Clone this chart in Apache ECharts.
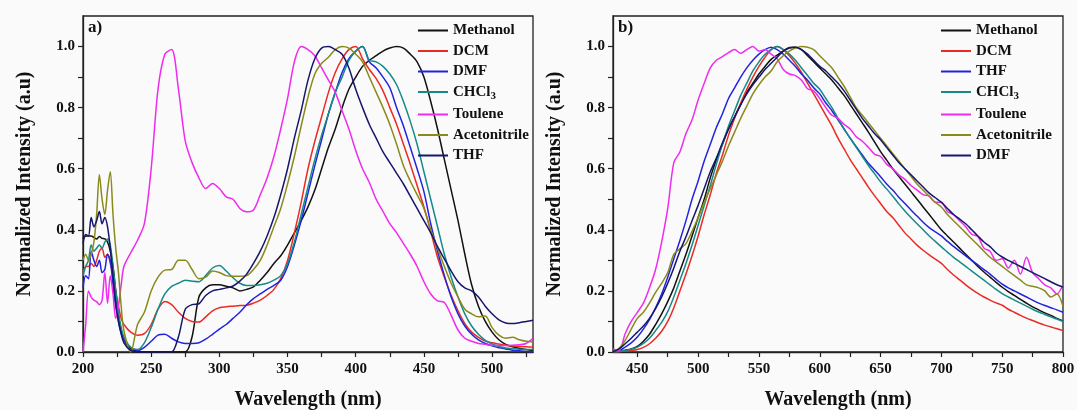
<!DOCTYPE html>
<html>
<head>
<meta charset="utf-8">
<script src="https://cdn.jsdelivr.net/npm/echarts@6/dist/echarts.min.js"></script>
<style>
  html, body { margin: 0; padding: 0; background: #fafafa; }
  #chart { width: 1077px; height: 410px; }
</style>
</head>
<body>
<div id="chart"></div>
<script>
// ---- a) absorption spectra ----
const absWavelength = [200,202,204,206,208,210,212,214,216,218,220,222,224,226,228,230,
  235,240,245,250,255,260,265,270,275,280,285,290,295,300,305,310,315,320,325,330,
  335,340,345,350,355,360,365,370,375,380,385,390,395,400,405,410,415,420,425,430,
  435,440,445,450,455,460,465,470,475,480,485,490,495,500,505,510,515,520,525,530];

const absMethanol = [0.37,0.38,0.38,0.38,0.375,0.37,0.378,0.372,0.37,0.36,0.33,0.28,0.2,0.12,0.07,0.04,
  0.01,0.003,0,0,0,0,0,0,0,0.05,0.18,0.21,0.22,0.22,0.215,0.21,0.2,0.205,0.213,0.235,
  0.26,0.29,0.315,0.35,0.39,0.43,0.475,0.53,0.6,0.67,0.73,0.8,0.86,0.9,0.935,0.955,0.97,0.985,0.995,1.0,
  0.995,0.975,0.95,0.9,0.82,0.73,0.63,0.53,0.43,0.32,0.22,0.15,0.1,0.065,0.04,0.025,0.017,0.012,0.008,0.005];

const absDCM = [0.26,0.28,0.28,0.29,0.28,0.3,0.33,0.34,0.31,0.32,0.29,0.25,0.2,0.15,0.11,0.09,
  0.065,0.055,0.06,0.09,0.14,0.165,0.155,0.13,0.11,0.1,0.098,0.115,0.135,0.145,0.148,0.15,0.152,0.153,0.16,0.17,
  0.185,0.205,0.24,0.3,0.39,0.49,0.6,0.69,0.77,0.85,0.915,0.96,0.99,1.0,0.96,0.925,0.895,0.855,0.8,0.745,
  0.68,0.615,0.545,0.475,0.395,0.31,0.245,0.185,0.135,0.093,0.065,0.048,0.036,0.03,0.026,0.022,0.02,0.018,0.017,0.016];

const absDMF = [0.21,0.25,0.24,0.33,0.3,0.28,0.3,0.26,0.27,0.32,0.3,0.22,0.15,0.1,0.06,0.04,
  0.015,0.005,0.015,0.035,0.055,0.058,0.045,0.033,0.028,0.028,0.03,0.042,0.058,0.075,0.09,0.11,0.13,0.155,0.175,0.19,
  0.205,0.218,0.235,0.28,0.35,0.43,0.52,0.61,0.695,0.78,0.85,0.915,0.96,0.985,1.0,0.95,0.93,0.9,0.865,0.8,
  0.74,0.67,0.6,0.525,0.42,0.33,0.25,0.18,0.125,0.085,0.058,0.04,0.028,0.02,0.014,0.01,0.006,0.004,0.002,0.001];

const absCHCl3 = [0.25,0.28,0.3,0.35,0.33,0.34,0.35,0.34,0.36,0.37,0.35,0.28,0.2,0.13,0.08,0.05,
  0.015,0.008,0.03,0.08,0.14,0.19,0.215,0.225,0.235,0.232,0.23,0.25,0.275,0.283,0.265,0.243,0.225,0.218,0.218,0.22,
  0.225,0.235,0.25,0.29,0.36,0.45,0.54,0.63,0.71,0.78,0.85,0.9,0.955,0.985,1.0,0.955,0.95,0.935,0.91,0.875,
  0.82,0.755,0.68,0.59,0.5,0.41,0.32,0.245,0.18,0.125,0.085,0.058,0.038,0.026,0.018,0.013,0.011,0.009,0.008,0.008];

const absToulene = [0,0.09,0.2,0.18,0.17,0.165,0.155,0.17,0.26,0.16,0.25,0.19,0.11,0.15,0.22,0.28,
  0.325,0.366,0.42,0.6,0.86,0.975,0.99,0.86,0.69,0.62,0.57,0.535,0.552,0.535,0.508,0.5,0.47,0.459,0.465,0.515,
  0.57,0.64,0.73,0.83,0.95,1.0,0.99,0.97,0.93,0.89,0.85,0.79,0.73,0.66,0.6,0.555,0.5,0.46,0.42,0.39,
  0.355,0.32,0.28,0.23,0.19,0.167,0.162,0.12,0.072,0.045,0.035,0.028,0.025,0.022,0.021,0.021,0.022,0.024,0.028,0.045];

const absAcetonitrile = [0.3,0.32,0.3,0.32,0.36,0.45,0.58,0.5,0.45,0.53,0.59,0.45,0.34,0.26,0.15,0.07,
  0.0,0.09,0.13,0.2,0.245,0.268,0.27,0.3,0.3,0.27,0.24,0.245,0.265,0.26,0.25,0.248,0.248,0.25,0.27,0.3,
  0.35,0.41,0.47,0.55,0.64,0.74,0.835,0.91,0.945,0.965,0.99,1.0,0.995,0.975,0.95,0.9,0.85,0.8,0.745,0.68,
  0.61,0.56,0.515,0.47,0.4,0.34,0.28,0.225,0.18,0.14,0.125,0.115,0.118,0.08,0.055,0.045,0.048,0.04,0.035,0.033];

const absTHF = [0.355,0.385,0.38,0.44,0.41,0.43,0.46,0.42,0.44,0.41,0.34,0.25,0.16,0.1,0.06,0.03,
  0.005,0,0,0,0,0,0,0.05,0.14,0.155,0.158,0.185,0.2,0.205,0.21,0.216,0.232,0.255,0.29,0.33,
  0.38,0.44,0.515,0.6,0.7,0.79,0.89,0.96,0.995,1.0,0.99,0.975,0.93,0.86,0.8,0.745,0.7,0.655,0.62,0.585,
  0.55,0.51,0.47,0.43,0.39,0.345,0.305,0.265,0.23,0.21,0.2,0.18,0.15,0.125,0.105,0.095,0.093,0.096,0.1,0.104];

// ---- b) emission spectra ----
const plWavelength = [430,435,440,445,450,455,460,465,470,475,480,485,490,495,500,505,510,515,520,525,
  530,535,540,545,550,555,560,565,570,575,580,585,590,595,600,605,610,615,620,625,
  630,635,640,645,650,655,660,665,670,675,680,685,690,695,700,705,710,715,720,725,
  730,735,740,745,750,755,760,765,770,775,780,785,790,795,800];

const plMethanol = [0,0.002,0.006,0.01,0.018,0.035,0.058,0.09,0.125,0.165,0.21,0.265,0.32,0.38,0.44,0.5,0.57,0.63,0.68,0.73,
  0.77,0.81,0.85,0.88,0.91,0.935,0.958,0.972,0.985,0.995,0.998,0.99,0.97,0.95,0.93,0.91,0.89,0.865,0.84,0.81,
  0.78,0.75,0.72,0.688,0.656,0.628,0.6,0.575,0.55,0.525,0.5,0.475,0.45,0.425,0.4,0.38,0.36,0.34,0.32,0.3,
  0.28,0.262,0.245,0.228,0.212,0.198,0.185,0.172,0.16,0.148,0.138,0.128,0.12,0.11,0.102];

const plDCM = [0,0.001,0.003,0.005,0.008,0.015,0.027,0.045,0.068,0.1,0.145,0.2,0.255,0.315,0.38,0.45,0.515,0.585,0.645,0.71,
  0.765,0.815,0.86,0.9,0.935,0.965,0.99,1.0,0.99,0.97,0.945,0.915,0.88,0.845,0.81,0.775,0.74,0.7,0.665,0.63,
  0.6,0.57,0.54,0.512,0.486,0.46,0.44,0.415,0.39,0.37,0.35,0.333,0.318,0.304,0.29,0.27,0.252,0.236,0.22,0.205,
  0.192,0.18,0.17,0.161,0.153,0.14,0.13,0.12,0.111,0.103,0.095,0.088,0.082,0.076,0.07];

const plTHF = [0,0.004,0.016,0.03,0.049,0.075,0.106,0.145,0.19,0.245,0.305,0.365,0.43,0.5,0.56,0.625,0.68,0.735,0.78,0.83,
  0.865,0.9,0.93,0.955,0.975,0.99,0.998,0.99,0.975,0.955,0.935,0.91,0.89,0.865,0.845,0.815,0.79,0.76,0.73,0.7,
  0.672,0.645,0.618,0.596,0.574,0.55,0.53,0.507,0.486,0.465,0.445,0.425,0.407,0.393,0.38,0.362,0.346,0.33,0.315,0.3,
  0.285,0.27,0.255,0.238,0.222,0.21,0.2,0.19,0.18,0.17,0.16,0.152,0.145,0.138,0.13];

const plCHCl3 = [0,0.002,0.005,0.009,0.016,0.028,0.045,0.07,0.097,0.132,0.18,0.235,0.29,0.35,0.415,0.48,0.545,0.615,0.68,0.74,
  0.79,0.84,0.88,0.92,0.95,0.975,0.99,1.0,0.99,0.975,0.955,0.93,0.905,0.88,0.86,0.83,0.8,0.765,0.73,0.7,
  0.67,0.64,0.61,0.584,0.557,0.534,0.51,0.485,0.462,0.44,0.42,0.4,0.38,0.362,0.344,0.327,0.31,0.295,0.28,0.265,
  0.25,0.235,0.22,0.205,0.191,0.18,0.17,0.16,0.15,0.14,0.131,0.123,0.115,0.108,0.1];

const plToulene = [0.01,0.005,0.06,0.1,0.13,0.16,0.21,0.27,0.36,0.47,0.62,0.655,0.715,0.76,0.825,0.88,0.93,0.955,0.967,0.98,
  0.99,0.978,0.99,1.0,0.985,0.99,0.975,0.96,0.925,0.91,0.905,0.89,0.862,0.855,0.83,0.8,0.775,0.765,0.745,0.73,
  0.705,0.69,0.67,0.648,0.64,0.615,0.6,0.58,0.565,0.545,0.53,0.515,0.51,0.49,0.49,0.46,0.45,0.43,0.41,0.385,
  0.378,0.34,0.33,0.3,0.305,0.275,0.3,0.255,0.31,0.26,0.24,0.22,0.21,0.19,0.22];

const plAcetonitrile = [0,0.012,0.038,0.075,0.11,0.13,0.16,0.195,0.225,0.26,0.32,0.338,0.355,0.395,0.44,0.49,0.535,0.58,0.625,0.675,
  0.72,0.765,0.805,0.845,0.875,0.9,0.92,0.95,0.97,0.985,0.995,1.0,0.998,0.99,0.97,0.95,0.93,0.9,0.87,0.835,
  0.8,0.775,0.75,0.725,0.7,0.675,0.65,0.625,0.6,0.575,0.55,0.53,0.51,0.49,0.475,0.45,0.43,0.41,0.39,0.37,
  0.35,0.33,0.31,0.295,0.28,0.265,0.25,0.235,0.22,0.215,0.21,0.2,0.18,0.19,0.15];

const plDMF = [0,0.01,0.027,0.045,0.065,0.085,0.11,0.142,0.18,0.225,0.275,0.33,0.377,0.43,0.48,0.535,0.59,0.635,0.685,0.73,
  0.77,0.81,0.845,0.875,0.9,0.925,0.945,0.965,0.985,0.997,0.998,0.99,0.975,0.955,0.935,0.92,0.9,0.88,0.855,0.825,
  0.795,0.765,0.74,0.715,0.695,0.67,0.645,0.62,0.6,0.58,0.56,0.54,0.52,0.505,0.49,0.47,0.45,0.435,0.42,0.4,
  0.38,0.36,0.345,0.325,0.311,0.3,0.29,0.28,0.27,0.26,0.25,0.24,0.23,0.22,0.213];

// ---- axis ticks ----
const absTicks  = [200,225,250,275,300,325,350,375,400,425,450,475,500,525];
const absLabels = [200,250,300,350,400,450,500];
const plTicks   = [450,475,500,525,550,575,600,625,650,675,700,725,750,775,800];
const plLabels  = [450,500,550,600,650,700,750,800];

// ---- styling ----
const FONT = '"Liberation Serif", "Times New Roman", serif';
const COLORS = {
  black: '#111111', red: '#ea2a24', blue: '#2323dd', teal: '#168a88',
  magenta: '#ef2bef', olive: '#8a8a1c', navy: '#16166e'
};

const panelA = [
  ['Methanol', absMethanol, COLORS.black],
  ['DCM', absDCM, COLORS.red],
  ['DMF', absDMF, COLORS.blue],
  ['CHCl3', absCHCl3, COLORS.teal],
  ['Toulene', absToulene, COLORS.magenta],
  ['Acetonitrile', absAcetonitrile, COLORS.olive],
  ['THF', absTHF, COLORS.navy]
];
const panelB = [
  ['Methanol', plMethanol, COLORS.black],
  ['DCM', plDCM, COLORS.red],
  ['THF', plTHF, COLORS.blue],
  ['CHCl3', plCHCl3, COLORS.teal],
  ['Toulene', plToulene, COLORS.magenta],
  ['Acetonitrile', plAcetonitrile, COLORS.olive],
  ['DMF', plDMF, COLORS.navy]
];

function makeSeries(prefix, defs, wl, idx) {
  return defs.map(([name, vals, color]) => ({
    name: prefix + name,
    type: 'line',
    xAxisIndex: idx,
    yAxisIndex: idx,
    data: wl.map((w, i) => [w, vals[i]]),
    symbol: 'none',
    smooth: 0.3,
    clip: true,
    color: color,
    lineStyle: { width: 1.5, color: color },
    emphasis: { disabled: true }
  }));
}

function legendLabel(name) {
  const t = name.slice(2);
  return t === 'CHCl3' ? '{t|CHCl}{s|3}' : '{t|' + t + '}';
}

function makeLegend(prefix, defs, left) {
  return {
    orient: 'vertical',
    left: left,
    top: 23,
    padding: 0,
    icon: 'rect',
    itemWidth: 30,
    itemHeight: 2,
    itemGap: 5.5,
    selectedMode: false,
    data: defs.map(d => prefix + d[0]),
    formatter: legendLabel,
    textStyle: {
      fontFamily: FONT, fontWeight: 'bold', fontSize: 15, color: '#111',
      rich: {
        t: { fontFamily: FONT, fontWeight: 'bold', fontSize: 15, color: '#111' },
        s: { fontFamily: FONT, fontWeight: 'bold', fontSize: 11, color: '#111', padding: [8, 0, 0, 0] }
      }
    }
  };
}

function xAxisDef(idx, min, max, ticks, labels) {
  return {
    type: 'value', gridIndex: idx, min: min, max: max,
    name: 'Wavelength (nm)', nameLocation: 'middle', nameGap: 38,
    nameTextStyle: { fontFamily: FONT, fontWeight: 'bold', fontSize: 20, color: '#111' },
    axisLine: { onZero: false, lineStyle: { color: '#222', width: 1.3 } },
    axisTick: { customValues: ticks, length: 5, lineStyle: { color: '#222', width: 1.2 } },
    axisLabel: { customValues: labels, margin: 10, fontFamily: FONT, fontWeight: 'bold', fontSize: 15, color: '#111' },
    splitLine: { show: false }
  };
}

function yAxisDef(idx) {
  return {
    type: 'value', gridIndex: idx, min: 0, max: 1.1, interval: 0.1,
    name: 'Normalized Intensity (a.u)', nameLocation: 'middle', nameGap: 48,
    nameTextStyle: { fontFamily: FONT, fontWeight: 'bold', fontSize: 20, color: '#111' },
    axisLine: { show: true, lineStyle: { color: '#222', width: 1.3 } },
    axisTick: { show: true, length: 5, lineStyle: { color: '#222', width: 1.2 } },
    axisLabel: {
      margin: 8, fontFamily: FONT, fontWeight: 'bold', fontSize: 15, color: '#111',
      showMaxLabel: false,
      formatter: v => {
        const k = Math.round(v * 10);
        return (k % 2 === 0 && k <= 10) ? (k / 10).toFixed(1) : '';
      }
    },
    splitLine: { show: false }
  };
}

const chart = echarts.init(document.getElementById('chart'), null, { renderer: 'canvas' });
chart.setOption({
  backgroundColor: '#fafafa',
  animation: false,
  grid: [
    { left: 83, top: 16, width: 450, height: 336, outerBoundsMode: 'none', containLabel: false,
      show: true, borderColor: '#222', borderWidth: 1.3, backgroundColor: 'transparent' },
    { left: 613, top: 16, width: 450, height: 336, outerBoundsMode: 'none', containLabel: false,
      show: true, borderColor: '#222', borderWidth: 1.3, backgroundColor: 'transparent' }
  ],
  xAxis: [
    xAxisDef(0, 200, 530, absTicks, absLabels),
    xAxisDef(1, 430, 800, plTicks, plLabels)
  ],
  yAxis: [yAxisDef(0), yAxisDef(1)],
  legend: [makeLegend('a:', panelA, 418), makeLegend('b:', panelB, 941)],
  graphic: [
    { type: 'text', left: 88, top: 19, style: { text: 'a)', font: 'bold 17px ' + FONT, fill: '#111' } },
    { type: 'text', left: 618, top: 19, style: { text: 'b)', font: 'bold 17px ' + FONT, fill: '#111' } }
  ],
  series: makeSeries('a:', panelA, absWavelength, 0).concat(makeSeries('b:', panelB, plWavelength, 1))
});
</script>
</body>
</html>
